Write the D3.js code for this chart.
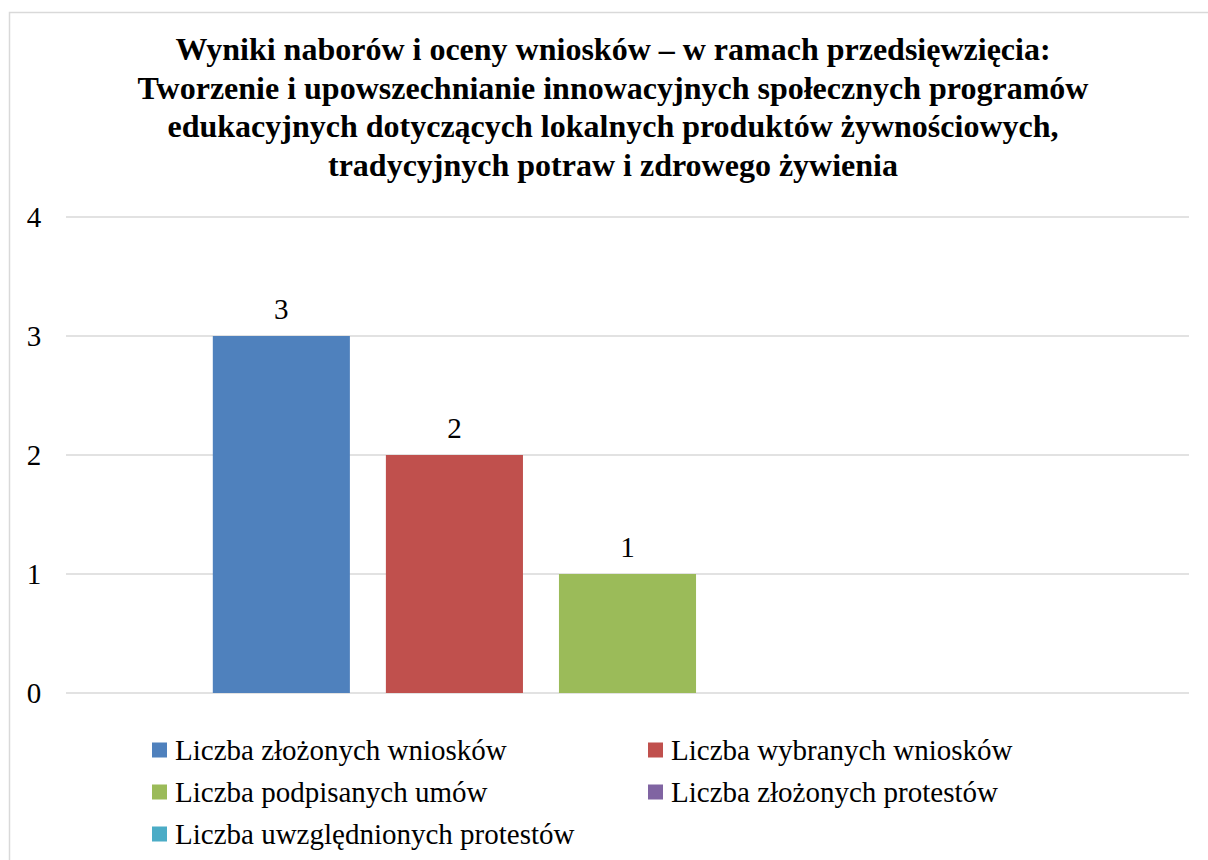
<!DOCTYPE html>
<html>
<head>
<meta charset="utf-8">
<script src="https://d3js.org/d3.v7.min.js"></script>
</head>
<body style="margin:0">
<svg id="chart" width="1208" height="860"></svg>
<script>
// chart values
var titleLines = [
  "Wyniki naborów i oceny wniosków – w ramach przedsięwzięcia:",
  "Tworzenie i upowszechnianie innowacyjnych społecznych programów",
  "edukacyjnych dotyczących lokalnych produktów żywnościowych,",
  "tradycyjnych potraw i zdrowego żywienia"
];
var categories = [""];
var seriesNames = [
  "Liczba złożonych wniosków",
  "Liczba wybranych wniosków",
  "Liczba podpisanych umów",
  "Liczba złożonych protestów",
  "Liczba uwzględnionych protestów"
];
var seriesValues = [3, 2, 1, 0, 0];
var seriesColors = ["#4F81BD", "#C0504D", "#9BBB59", "#8064A2", "#4BACC6"];
var yTicks = [0, 1, 2, 3, 4];

var serif = "'Liberation Serif', 'Times New Roman', serif";
var svg = d3.select("#chart");

// outer border of the chart area
svg.append("rect")
  .attr("x", 9.5).attr("y", 12.5)
  .attr("width", 1230).attr("height", 900)
  .attr("fill", "none")
  .attr("stroke", "#d9d9d9")
  .attr("stroke-width", 1.5);

// title
svg.append("g").selectAll("text")
  .data(titleLines)
  .enter().append("text")
  .attr("x", 613)
  .attr("y", function (d, i) { return 60 + i * 38.5; })
  .attr("text-anchor", "middle")
  .style("font-family", serif)
  .style("font-size", "32px")
  .style("font-weight", "bold")
  .text(function (d) { return d; });

var plotLeft = 66, plotRight = 1189;

var y = d3.scaleLinear().domain([0, 4]).range([693, 217]);

var x0 = d3.scaleBand()
  .domain(categories)
  .range([plotLeft, plotRight])
  .paddingInner(0)
  .paddingOuter(0.177);

var x1 = d3.scaleBand()
  .domain(seriesNames)
  .range([0, x0.bandwidth()])
  .paddingInner(0.208)
  .paddingOuter(0);

// gridlines
svg.append("g").selectAll("line")
  .data(yTicks)
  .enter().append("line")
  .attr("x1", plotLeft).attr("x2", plotRight)
  .attr("y1", function (d) { return y(d); })
  .attr("y2", function (d) { return y(d); })
  .attr("stroke", "#d9d9d9")
  .attr("stroke-width", 1.5);

// y tick labels
svg.append("g").selectAll("text")
  .data(yTicks)
  .enter().append("text")
  .attr("x", 34)
  .attr("y", function (d) { return y(d); })
  .attr("dy", "0.35em")
  .attr("text-anchor", "middle")
  .style("font-family", serif)
  .style("font-size", "29px")
  .text(function (d) { return d; });

// bars
var group = svg.append("g")
  .attr("transform", "translate(" + x0(categories[0]) + ",0)");

group.selectAll("rect")
  .data(seriesNames)
  .enter().append("rect")
  .attr("x", function (d) { return x1(d); })
  .attr("width", x1.bandwidth())
  .attr("y", function (d, i) { return y(seriesValues[i]); })
  .attr("height", function (d, i) { return y(0) - y(seriesValues[i]); })
  .attr("fill", function (d, i) { return seriesColors[i]; });

// data labels (zero values are not labelled)
group.selectAll("text.label")
  .data(seriesNames.filter(function (d, i) { return seriesValues[i] > 0; }))
  .enter().append("text")
  .attr("class", "label")
  .attr("x", function (d) { return x1(d) + x1.bandwidth() / 2; })
  .attr("y", function (d) { return y(seriesValues[seriesNames.indexOf(d)]) - 17; })
  .attr("text-anchor", "middle")
  .style("font-family", serif)
  .style("font-size", "29px")
  .text(function (d) { return seriesValues[seriesNames.indexOf(d)]; });

// legend
var legendCols = [152, 648];
var legend = svg.append("g").selectAll("g")
  .data(seriesNames)
  .enter().append("g")
  .attr("transform", function (d, i) {
    return "translate(" + legendCols[i % 2] + "," + (750 + Math.floor(i / 2) * 42) + ")";
  });

legend.append("rect")
  .attr("x", 0).attr("y", -7.5)
  .attr("width", 15).attr("height", 15)
  .attr("fill", function (d, i) { return seriesColors[i]; });

legend.append("text")
  .attr("x", 23)
  .attr("y", 0)
  .attr("dy", "0.35em")
  .style("font-family", serif)
  .style("font-size", "29px")
  .text(function (d) { return d; });
</script>
</body>
</html>
